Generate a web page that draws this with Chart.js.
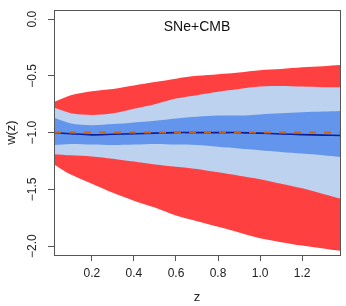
<!DOCTYPE html>
<html>
<head>
<meta charset="utf-8">
<script src="https://cdn.jsdelivr.net/npm/chart.js@4"></script>
<style>
  html, body { margin: 0; padding: 0; background: #fff; }
  #wrap { width: 346px; height: 306px; }
</style>
</head>
<body>
<div id="wrap"><canvas id="wz"></canvas></div>
<script>
// redshift grid and band edges
const zs = [0.02, 0.1, 0.2, 0.3, 0.4, 0.5, 0.6, 0.7, 0.8, 0.9, 1.0, 1.1, 1.2, 1.3, 1.38]
const redUpper = [-0.73, -0.67, -0.635, -0.615, -0.585, -0.555, -0.525, -0.50, -0.485, -0.47, -0.45, -0.44, -0.425, -0.415, -0.405]
const lightUpper = [-0.78, -0.83, -0.845, -0.83, -0.79, -0.75, -0.70, -0.67, -0.64, -0.615, -0.595, -0.59, -0.595, -0.60, -0.60]
const midUpper = [-0.87, -0.92, -0.935, -0.925, -0.91, -0.895, -0.875, -0.86, -0.85, -0.85, -0.84, -0.83, -0.82, -0.815, -0.81]
const wBest = [-1.0, -1.01, -1.02, -1.015, -1.01, -1.005, -1.0, -1.0, -1.0, -1.0, -1.005, -1.012, -1.018, -1.022, -1.025]
const midLower = [-1.11, -1.10, -1.105, -1.11, -1.105, -1.10, -1.105, -1.11, -1.125, -1.14, -1.155, -1.17, -1.185, -1.20, -1.215]
const lightLower = [-1.19, -1.20, -1.21, -1.23, -1.255, -1.28, -1.30, -1.32, -1.35, -1.38, -1.41, -1.45, -1.49, -1.54, -1.58]
const redLower = [-1.28, -1.37, -1.45, -1.53, -1.60, -1.66, -1.73, -1.78, -1.83, -1.88, -1.93, -1.965, -1.995, -2.02, -2.04]
const refZ = [0.02, 1.38]
const refW = [-1, -1]

const xTicks = [0.2, 0.4, 0.6, 0.8, 1.0, 1.2]
const yTicks = [-2.0, -1.5, -1.0, -0.5, 0.0]
const panelTitle = "SNe+CMB"

const pts = (xs, ys) => xs.map((x, i) => ({ x: x, y: ys[i] }))
const font = "'Liberation Sans', Arial, sans-serif"
const clear = "rgba(0,0,0,0)"

const band = (data, color, target, order) => ({
  data: data,
  borderColor: clear,
  borderWidth: 1,
  backgroundColor: color,
  fill: target === null ? false : { target: target },
  pointRadius: 0,
  tension: 0.3,
  order: order,
})

// R style box around the plot, panel label inside it
const boxPlugin = {
  id: "box",
  afterDraw(chart) {
    const a = chart.chartArea
    const ctx = chart.ctx
    ctx.save()
    ctx.strokeStyle = "#555"
    ctx.lineWidth = 1
    ctx.strokeRect(Math.round(a.left) + 0.5, Math.round(a.top) + 0.5, Math.round(a.right - a.left), Math.round(a.bottom - a.top))
    ctx.fillStyle = "#111"
    ctx.font = "14px " + font
    ctx.textAlign = "center"
    ctx.textBaseline = "middle"
    ctx.fillText(panelTitle, (a.left + a.right) / 2, a.top + 17)
    ctx.restore()
  },
}

new Chart(document.getElementById("wz"), {
  type: "line",
  data: {
    datasets: [
      band(pts(zs, redUpper), "#ff4040", 1, 10),
      band(pts(zs, redLower), "#ff4040", null, 10),
      band(pts(zs, lightUpper), "#bcd2ee", 3, 8),
      band(pts(zs, lightLower), "#bcd2ee", null, 8),
      band(pts(zs, midUpper), "#6495ed", 5, 6),
      band(pts(zs, midLower), "#6495ed", null, 6),
      {
        data: pts(zs, wBest),
        borderColor: "#0b1f96",
        borderWidth: 1.6,
        pointRadius: 0,
        tension: 0.3,
        fill: false,
        order: 2,
      },
      {
        data: pts(refZ, refW),
        borderColor: "#c8641e",
        borderWidth: 2,
        borderDash: [7, 8],
        pointRadius: 0,
        fill: false,
        order: 1,
      },
    ],
  },
  plugins: [boxPlugin],
  options: {
    responsive: true,
    maintainAspectRatio: false,
    animation: false,
    layout: { padding: { top: 5, right: 6, left: 0, bottom: 0 } },
    plugins: {
      legend: { display: false },
      tooltip: { enabled: false },
    },
    scales: {
      x: {
        type: "linear",
        min: 0.02,
        max: 1.38,
        afterBuildTicks: (s) => { s.ticks = xTicks.map((v) => ({ value: v })) },
        afterFit: (s) => { s.height = 51 },
        grid: { drawOnChartArea: false, drawTicks: true, tickLength: 6, color: "#555" },
        border: { display: true, color: "#555" },
        ticks: {
          font: { family: font, size: 12 },
          color: "#222",
          padding: 5,
          maxRotation: 0,
          callback: (v) => v.toFixed(1),
        },
        title: {
          display: true,
          text: "z",
          font: { family: font, size: 13 },
          color: "#222",
          padding: { top: 0, bottom: 1 },
        },
      },
      y: {
        type: "linear",
        min: -2.078,
        max: 0.078,
        afterBuildTicks: (s) => { s.ticks = yTicks.map((v) => ({ value: v })) },
        afterFit: (s) => { s.width = 54 },
        grid: { drawOnChartArea: false, drawTicks: true, tickLength: 6, color: "#555" },
        border: { display: true, color: "#555" },
        ticks: {
          font: { family: font, size: 12 },
          color: "#222",
          padding: 3,
          minRotation: 90,
          maxRotation: 90,
          crossAlign: "center",
          callback: (v) => v.toFixed(1).replace("-", "\u2212"),
        },
        title: {
          display: true,
          text: "w(z)",
          font: { family: font, size: 13 },
          color: "#222",
          padding: { top: 4, bottom: 0 },
        },
      },
    },
  },
})
</script>
</body>
</html>
